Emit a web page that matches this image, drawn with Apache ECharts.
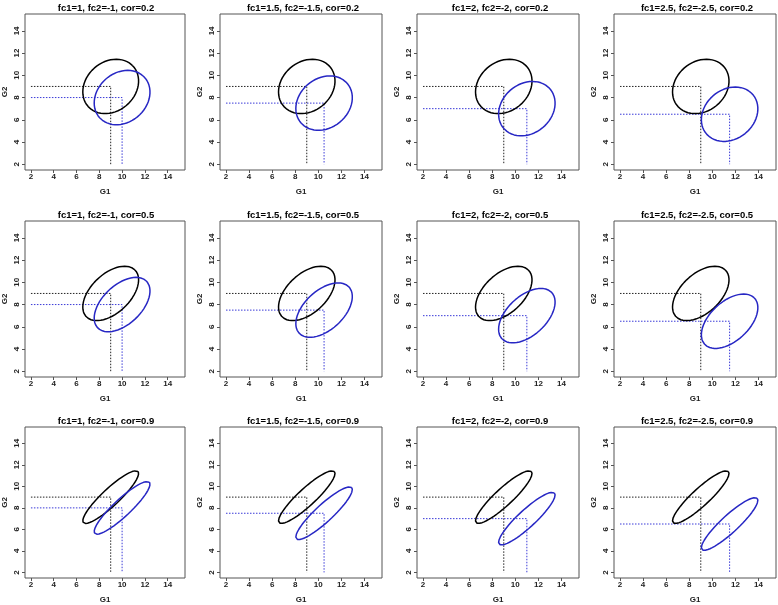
<!DOCTYPE html>
<html>
<head>
<meta charset="utf-8">
<script src="https://cdn.jsdelivr.net/npm/echarts@6/dist/echarts.min.js"></script>
<style>html,body{margin:0;padding:0;background:#fff;}#c{width:778px;height:605px;}</style>
</head>
<body>
<div id="c"></div>
<script>
// ---- data ----
var fc1Values = [1, 1.5, 2, 2.5];
var fc2Values = [-1, -1.5, -2, -2.5];
var corValues = [0.2, 0.5, 0.9];
var baseCenter = [9, 9];          // black ellipse center (G1, G2)
var sdValues = [1, 1];            // standard deviations
var levelRadius = 2.4477;         // sqrt(qchisq(0.95, 2))
var refLineStart = 2;             // where dotted guide lines start
var tickValues = [2, 4, 6, 8, 10, 12, 14];
var axisRange = [1.48, 15.52];

// ellipse outline for a bivariate normal (like R's ellipse())
function ellipsePoints(cx, cy, r) {
  var d = Math.acos(r), pts = [], n = 120;
  for (var i = 0; i <= n; i++) {
    var a = 2 * Math.PI * i / n;
    pts.push([cx + levelRadius * sdValues[0] * Math.cos(a + d / 2),
              cy + levelRadius * sdValues[1] * Math.cos(a - d / 2)]);
  }
  return pts;
}

var lefts = [23, 220, 417, 614], tops = [14, 221, 427];
var W = 162, H = 156;
var grids = [], xAxes = [], yAxes = [], series = [], titles = [];
var blue = '#2727c4';
var k = 0;
for (var r = 0; r < corValues.length; r++) {
  for (var c = 0; c < fc1Values.length; c++) {
    var cor = corValues[r], f1 = fc1Values[c], f2 = fc2Values[c];
    grids.push({left: lefts[c], top: tops[r], width: W, height: H, show: true,
      borderColor: '#555', borderWidth: 1, backgroundColor: 'transparent'});
    titles.push({text: 'fc1=' + f1 + ', fc2=' + f2 + ', cor=' + cor,
      left: lefts[c] + W / 2 - 3, top: tops[r] - 16, textAlign: 'center',
      textStyle: {fontSize: 9.5, fontWeight: 'bold', color: '#000', fontFamily: 'Liberation Sans'}});
    xAxes.push({gridIndex: k, type: 'value', min: axisRange[0], max: axisRange[1],
      name: 'G1', nameLocation: 'middle', nameGap: 18,
      nameTextStyle: {fontSize: 8, fontWeight: 'bold', color: '#222', fontFamily: 'Liberation Sans'},
      axisLine: {show: false}, splitLine: {show: false},
      axisTick: {show: true, length: 3, customValues: tickValues, lineStyle: {color: '#555'}},
      axisLabel: {customValues: tickValues, fontSize: 8, fontWeight: 'bold', color: '#222', margin: 3, fontFamily: 'Liberation Sans'}});
    yAxes.push({gridIndex: k, type: 'value', min: axisRange[0], max: axisRange[1],
      name: 'G2', nameLocation: 'middle', nameGap: 16, nameRotate: 90,
      nameTextStyle: {fontSize: 8, fontWeight: 'bold', color: '#222', fontFamily: 'Liberation Sans'},
      axisLine: {show: false}, splitLine: {show: false},
      axisTick: {show: true, length: 3, customValues: tickValues, lineStyle: {color: '#555'}},
      axisLabel: {customValues: tickValues, rotate: 90, fontSize: 8, fontWeight: 'bold', color: '#222', margin: 4, fontFamily: 'Liberation Sans'}});
    var bx = baseCenter[0], by = baseCenter[1];
    var gx = bx + f1, gy = by + f2;
    var common = {type: 'line', xAxisIndex: k, yAxisIndex: k, symbol: 'none', silent: true, animation: false};
    series.push(Object.assign({}, common, {data: [[refLineStart, by], [bx, by], [bx, refLineStart]],
      lineStyle: {color: '#222', width: 1, type: [1.5, 1.5]}}));
    series.push(Object.assign({}, common, {data: [[refLineStart, gy], [gx, gy], [gx, refLineStart]],
      lineStyle: {color: '#3a3ad8', width: 1, type: [1.5, 1.5]}}));
    series.push(Object.assign({}, common, {data: ellipsePoints(bx, by, cor),
      lineStyle: {color: '#000', width: 1.5}}));
    series.push(Object.assign({}, common, {data: ellipsePoints(gx, gy, cor),
      lineStyle: {color: blue, width: 1.5}}));
    k++;
  }
}
var chart = echarts.init(document.getElementById('c'), null, {renderer: 'canvas'});
chart.setOption({animation: false, backgroundColor: '#fff', title: titles, grid: grids,
  xAxis: xAxes, yAxis: yAxes, series: series});
</script>
</body>
</html>
